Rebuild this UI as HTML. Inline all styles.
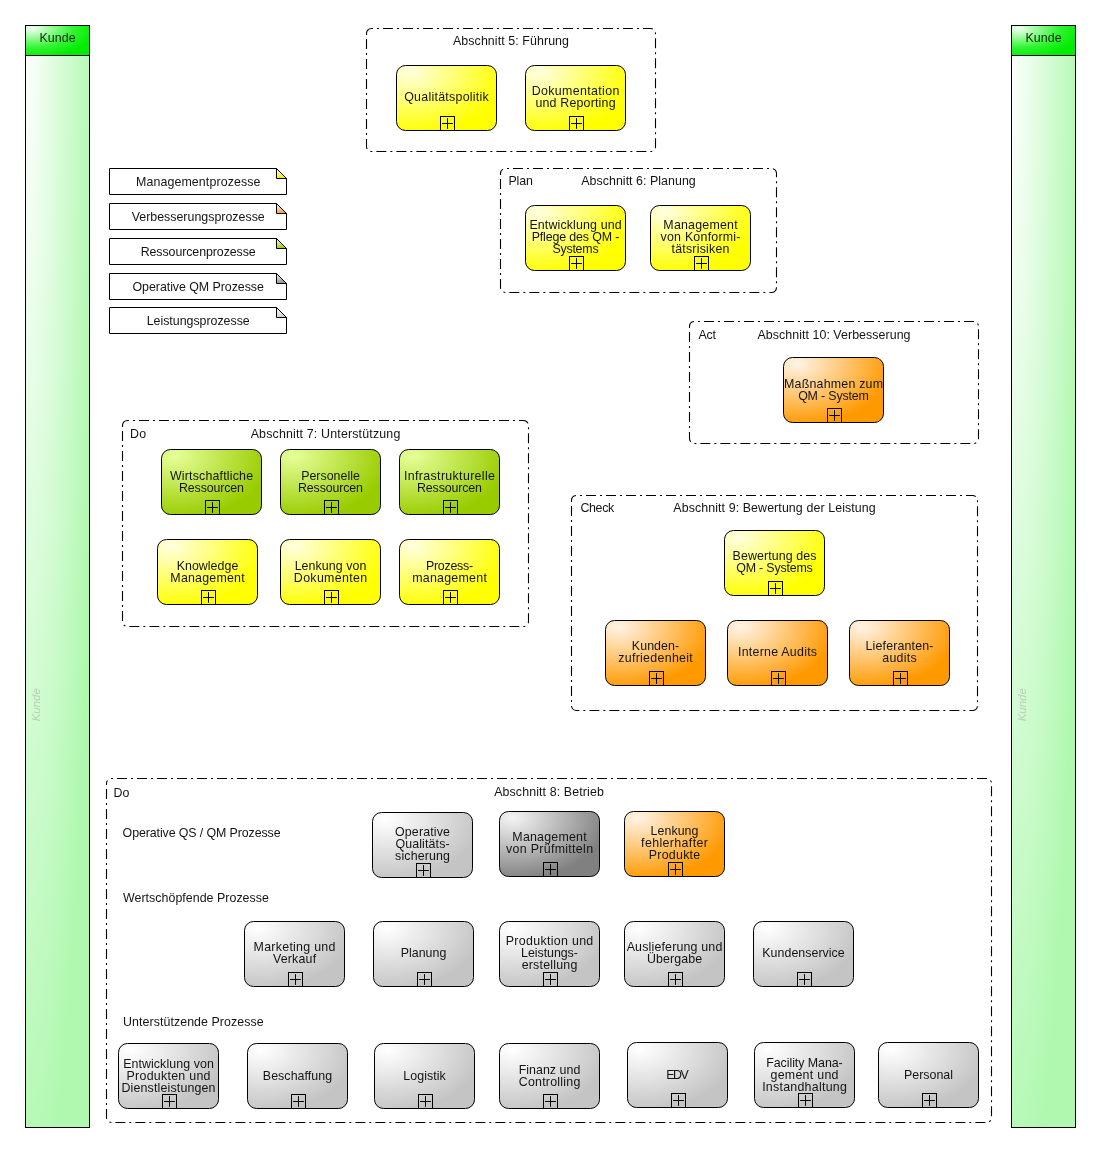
<!DOCTYPE html>
<html><head><meta charset="utf-8"><style>
html,body{margin:0;padding:0;background:#fff;}
svg{display:block;font-family:"Liberation Sans", sans-serif;will-change:transform;}
.t{font-size:12.4px;fill:#141414;stroke:#141414;stroke-width:0px;}
</style></head><body>
<svg width="1101" height="1152" viewBox="0 0 1101 1152">
<defs>
<radialGradient id="ty" cx="0.13" cy="0.1" r="0.95" fx="0.13" fy="0.1"><stop offset="0" stop-color="#ffffe0"/><stop offset="1" stop-color="#ffff00"/></radialGradient>
<radialGradient id="to" cx="0.13" cy="0.1" r="0.95" fx="0.13" fy="0.1"><stop offset="0" stop-color="#fff4e6"/><stop offset="1" stop-color="#ff9900"/></radialGradient>
<radialGradient id="tg" cx="0.13" cy="0.1" r="0.95" fx="0.13" fy="0.1"><stop offset="0" stop-color="#e6ff99"/><stop offset="1" stop-color="#99cc00"/></radialGradient>
<radialGradient id="tl" cx="0.13" cy="0.1" r="0.95" fx="0.13" fy="0.1"><stop offset="0" stop-color="#ffffff"/><stop offset="1" stop-color="#c4c4c4"/></radialGradient>
<radialGradient id="td" cx="0.13" cy="0.1" r="0.95" fx="0.13" fy="0.1"><stop offset="0" stop-color="#f4f4f4"/><stop offset="1" stop-color="#808080"/></radialGradient>
<linearGradient id="n0" x1="0" y1="0" x2="0.3" y2="1"><stop offset="0" stop-color="#ffffff"/><stop offset="1" stop-color="#f0f000"/></linearGradient>
<linearGradient id="n1" x1="0" y1="0" x2="0.3" y2="1"><stop offset="0" stop-color="#ffffff"/><stop offset="1" stop-color="#f0a040"/></linearGradient>
<linearGradient id="n2" x1="0" y1="0" x2="0.3" y2="1"><stop offset="0" stop-color="#ffffff"/><stop offset="1" stop-color="#99cc00"/></linearGradient>
<linearGradient id="n3" x1="0" y1="0" x2="0.3" y2="1"><stop offset="0" stop-color="#ffffff"/><stop offset="1" stop-color="#909090"/></linearGradient>
<linearGradient id="n4" x1="0" y1="0" x2="0.3" y2="1"><stop offset="0" stop-color="#ffffff"/><stop offset="1" stop-color="#d0d0d0"/></linearGradient>
<radialGradient id="lb" cx="0" cy="0" r="1.1" fx="0" fy="0"><stop offset="0" stop-color="#ffffff"/><stop offset="1" stop-color="#b0f8b0"/></radialGradient>
<radialGradient id="lh" cx="0.1" cy="0.1" r="1" fx="0.1" fy="0.1"><stop offset="0" stop-color="#f4fff4"/><stop offset="0.3" stop-color="#98fc98"/><stop offset="0.65" stop-color="#30f430"/><stop offset="1" stop-color="#00ec00"/></radialGradient>
</defs>
<rect x="25.5" y="25.5" width="64" height="1102" fill="url(#lb)" stroke="#000" stroke-width="1"/>
<rect x="25.5" y="25.5" width="64" height="30" fill="url(#lh)" stroke="#000" stroke-width="1"/>
<text x="57.5" y="41.8" text-anchor="middle" fill="#0c240c" font-size="12.4" textLength="36.2">Kunde</text>
<text x="39.8" y="704.7" transform="rotate(-90 39.8 704.7)" text-anchor="middle" fill="#b8d0b8" font-style="italic" font-size="11.5" textLength="33.2">Kunde</text>
<rect x="1011.5" y="25.5" width="64" height="1102" fill="url(#lb)" stroke="#000" stroke-width="1"/>
<rect x="1011.5" y="25.5" width="64" height="30" fill="url(#lh)" stroke="#000" stroke-width="1"/>
<text x="1043.5" y="41.8" text-anchor="middle" fill="#0c240c" font-size="12.4" textLength="36.2">Kunde</text>
<text x="1025.8" y="704.7" transform="rotate(-90 1025.8 704.7)" text-anchor="middle" fill="#b8d0b8" font-style="italic" font-size="11.5" textLength="33.2">Kunde</text>
<path d="M109.5,168.5 H276.5 L286.5,178.5 V194.5 H109.5 Z" fill="#fff" stroke="#000"/>
<path d="M276.5,168.5 V178.5 H286.5 Z" fill="url(#n0)" stroke="#000"/>
<text x="198.2" y="185.8" text-anchor="middle" class="t" textLength="124.5">Managementprozesse</text>
<path d="M109.5,203.5 H276.5 L286.5,213.5 V229.5 H109.5 Z" fill="#fff" stroke="#000"/>
<path d="M276.5,203.5 V213.5 H286.5 Z" fill="url(#n1)" stroke="#000"/>
<text x="198.2" y="220.8" text-anchor="middle" class="t" textLength="133.1">Verbesserungsprozesse</text>
<path d="M109.5,238.5 H276.5 L286.5,248.5 V264.5 H109.5 Z" fill="#fff" stroke="#000"/>
<path d="M276.5,238.5 V248.5 H286.5 Z" fill="url(#n2)" stroke="#000"/>
<text x="198.2" y="255.8" text-anchor="middle" class="t" textLength="115.1">Ressourcenprozesse</text>
<path d="M109.5,273.5 H276.5 L286.5,283.5 V299.5 H109.5 Z" fill="#fff" stroke="#000"/>
<path d="M276.5,273.5 V283.5 H286.5 Z" fill="url(#n3)" stroke="#000"/>
<text x="198.2" y="290.8" text-anchor="middle" class="t" textLength="131.4">Operative QM Prozesse</text>
<path d="M109.5,307.5 H276.5 L286.5,317.5 V333.5 H109.5 Z" fill="#fff" stroke="#000"/>
<path d="M276.5,307.5 V317.5 H286.5 Z" fill="url(#n4)" stroke="#000"/>
<text x="198.2" y="324.8" text-anchor="middle" class="t" textLength="103.1">Leistungsprozesse</text>
<path d="M366.5,33.5V146.5A5,5 0 0 0 371.5,151.5H650.5A5,5 0 0 0 655.5,146.5V33.5A5,5 0 0 0 650.5,28.5H371.5A5,5 0 0 0 366.5,33.5Z" fill="none" stroke="#000" stroke-width="1.1" stroke-dasharray="2 4 10 4" stroke-dashoffset="0.5"/>
<text x="511.0" y="45.0" text-anchor="middle" class="t" textLength="116.0">Abschnitt 5: Führung</text>
<path d="M500.5,173.5V287.5A5,5 0 0 0 505.5,292.5H771.5A5,5 0 0 0 776.5,287.5V173.5A5,5 0 0 0 771.5,168.5H505.5A5,5 0 0 0 500.5,173.5Z" fill="none" stroke="#000" stroke-width="1.1" stroke-dasharray="2 4 10 4" stroke-dashoffset="0.5"/>
<text x="508.5" y="185.0" class="t" textLength="24.3">Plan</text>
<text x="638.5" y="185.0" text-anchor="middle" class="t" textLength="114.5">Abschnitt 6: Planung</text>
<path d="M689.5,326.5V438.5A5,5 0 0 0 694.5,443.5H973.5A5,5 0 0 0 978.5,438.5V326.5A5,5 0 0 0 973.5,321.5H694.5A5,5 0 0 0 689.5,326.5Z" fill="none" stroke="#000" stroke-width="1.1" stroke-dasharray="2 4 10 4" stroke-dashoffset="0.5"/>
<text x="698.5" y="339.0" class="t" textLength="17.5">Act</text>
<text x="834.0" y="339.0" text-anchor="middle" class="t" textLength="153.0">Abschnitt 10: Verbesserung</text>
<path d="M122.5,425.5V621.5A5,5 0 0 0 127.5,626.5H523.5A5,5 0 0 0 528.5,621.5V425.5A5,5 0 0 0 523.5,420.5H127.5A5,5 0 0 0 122.5,425.5Z" fill="none" stroke="#000" stroke-width="1.1" stroke-dasharray="2 4 10 4" stroke-dashoffset="0.5"/>
<text x="130.1" y="438.0" class="t" textLength="16.0">Do</text>
<text x="325.5" y="438.0" text-anchor="middle" class="t" textLength="149.6">Abschnitt 7: Unterstützung</text>
<path d="M571.5,500.5V705.5A5,5 0 0 0 576.5,710.5H972.5A5,5 0 0 0 977.5,705.5V500.5A5,5 0 0 0 972.5,495.5H576.5A5,5 0 0 0 571.5,500.5Z" fill="none" stroke="#000" stroke-width="1.1" stroke-dasharray="2 4 10 4" stroke-dashoffset="0.5"/>
<text x="580.5" y="512.0" class="t" textLength="33.7">Check</text>
<text x="774.5" y="512.0" text-anchor="middle" class="t" textLength="202.4">Abschnitt 9: Bewertung der Leistung</text>
<path d="M106.5,783.5V1117.5A5,5 0 0 0 111.5,1122.5H986.5A5,5 0 0 0 991.5,1117.5V783.5A5,5 0 0 0 986.5,778.5H111.5A5,5 0 0 0 106.5,783.5Z" fill="none" stroke="#000" stroke-width="1.1" stroke-dasharray="2 4 10 4" stroke-dashoffset="0.5"/>
<text x="113.5" y="797.0" class="t" textLength="16.0">Do</text>
<text x="549.0" y="796.0" text-anchor="middle" class="t" textLength="109.7">Abschnitt 8: Betrieb</text>
<text x="122.6" y="836.8" class="t" textLength="158.0">Operative QS / QM Prozesse</text>
<text x="123" y="901.8" class="t" textLength="145.9">Wertschöpfende Prozesse</text>
<text x="123" y="1026" class="t" textLength="140.7">Unterstützende Prozesse</text>
<rect x="396.5" y="65.5" width="100" height="65" rx="9" fill="url(#ty)" stroke="#000" stroke-width="1"/>
<text x="446.5" y="100.5" text-anchor="middle" class="t" textLength="84.6">Qualitätspolitik</text>
<rect x="440.5" y="116.5" width="14" height="14" fill="none" stroke="#000"/>
<path d="M442.5,123.5 H452.5 M447.5,118.5 V128.5" stroke="#000" fill="none" stroke-linecap="round"/>
<rect x="525.5" y="65.5" width="100" height="65" rx="9" fill="url(#ty)" stroke="#000" stroke-width="1"/>
<text x="575.5" y="94.5" text-anchor="middle" class="t" textLength="87.7">Dokumentation</text>
<text x="575.5" y="106.5" text-anchor="middle" class="t" textLength="80.1">und Reporting</text>
<rect x="569.5" y="116.5" width="14" height="14" fill="none" stroke="#000"/>
<path d="M571.5,123.5 H581.5 M576.5,118.5 V128.5" stroke="#000" fill="none" stroke-linecap="round"/>
<rect x="525.5" y="205.5" width="100" height="65" rx="9" fill="url(#ty)" stroke="#000" stroke-width="1"/>
<text x="575.5" y="228.5" text-anchor="middle" class="t" textLength="92.2">Entwicklung und</text>
<text x="575.5" y="240.5" text-anchor="middle" class="t" textLength="87.6">Pflege des QM -</text>
<text x="575.5" y="252.5" text-anchor="middle" class="t" textLength="46.2">Systems</text>
<rect x="569.5" y="256.5" width="14" height="14" fill="none" stroke="#000"/>
<path d="M571.5,263.5 H581.5 M576.5,258.5 V268.5" stroke="#000" fill="none" stroke-linecap="round"/>
<rect x="650.5" y="205.5" width="100" height="65" rx="9" fill="url(#ty)" stroke="#000" stroke-width="1"/>
<text x="700.5" y="228.5" text-anchor="middle" class="t" textLength="74.3">Management</text>
<text x="700.5" y="240.5" text-anchor="middle" class="t" textLength="80.0">von Konformi-</text>
<text x="700.5" y="252.5" text-anchor="middle" class="t" textLength="58.0">tätsrisiken</text>
<rect x="694.5" y="256.5" width="14" height="14" fill="none" stroke="#000"/>
<path d="M696.5,263.5 H706.5 M701.5,258.5 V268.5" stroke="#000" fill="none" stroke-linecap="round"/>
<rect x="783.5" y="357.5" width="100" height="65" rx="9" fill="url(#to)" stroke="#000" stroke-width="1"/>
<text x="833.5" y="387.5" text-anchor="middle" class="t" textLength="99.0">Maßnahmen zum</text>
<text x="833.5" y="399.5" text-anchor="middle" class="t" textLength="70.7">QM - System</text>
<rect x="827.5" y="408.5" width="14" height="14" fill="none" stroke="#000"/>
<path d="M829.5,415.5 H839.5 M834.5,410.5 V420.5" stroke="#000" fill="none" stroke-linecap="round"/>
<rect x="161.5" y="449.5" width="100" height="65" rx="9" fill="url(#tg)" stroke="#000" stroke-width="1"/>
<text x="211.5" y="479.5" text-anchor="middle" class="t" textLength="83.1">Wirtschaftliche</text>
<text x="211.5" y="491.5" text-anchor="middle" class="t" textLength="64.9">Ressourcen</text>
<rect x="205.5" y="500.5" width="14" height="14" fill="none" stroke="#000"/>
<path d="M207.5,507.5 H217.5 M212.5,502.5 V512.5" stroke="#000" fill="none" stroke-linecap="round"/>
<rect x="280.5" y="449.5" width="100" height="65" rx="9" fill="url(#tg)" stroke="#000" stroke-width="1"/>
<text x="330.5" y="479.5" text-anchor="middle" class="t" textLength="58.7">Personelle</text>
<text x="330.5" y="491.5" text-anchor="middle" class="t" textLength="64.9">Ressourcen</text>
<rect x="324.5" y="500.5" width="14" height="14" fill="none" stroke="#000"/>
<path d="M326.5,507.5 H336.5 M331.5,502.5 V512.5" stroke="#000" fill="none" stroke-linecap="round"/>
<rect x="399.5" y="449.5" width="100" height="65" rx="9" fill="url(#tg)" stroke="#000" stroke-width="1"/>
<text x="449.5" y="479.5" text-anchor="middle" class="t" textLength="90.9">Infrastrukturelle</text>
<text x="449.5" y="491.5" text-anchor="middle" class="t" textLength="64.9">Ressourcen</text>
<rect x="443.5" y="500.5" width="14" height="14" fill="none" stroke="#000"/>
<path d="M445.5,507.5 H455.5 M450.5,502.5 V512.5" stroke="#000" fill="none" stroke-linecap="round"/>
<rect x="157.5" y="539.5" width="100" height="65" rx="9" fill="url(#ty)" stroke="#000" stroke-width="1"/>
<text x="207.5" y="569.5" text-anchor="middle" class="t" textLength="61.7">Knowledge</text>
<text x="207.5" y="581.5" text-anchor="middle" class="t" textLength="74.3">Management</text>
<rect x="201.5" y="590.5" width="14" height="14" fill="none" stroke="#000"/>
<path d="M203.5,597.5 H213.5 M208.5,592.5 V602.5" stroke="#000" fill="none" stroke-linecap="round"/>
<rect x="280.5" y="539.5" width="100" height="65" rx="9" fill="url(#ty)" stroke="#000" stroke-width="1"/>
<text x="330.5" y="569.5" text-anchor="middle" class="t" textLength="71.7">Lenkung von</text>
<text x="330.5" y="581.5" text-anchor="middle" class="t" textLength="73.3">Dokumenten</text>
<rect x="324.5" y="590.5" width="14" height="14" fill="none" stroke="#000"/>
<path d="M326.5,597.5 H336.5 M331.5,592.5 V602.5" stroke="#000" fill="none" stroke-linecap="round"/>
<rect x="399.5" y="539.5" width="100" height="65" rx="9" fill="url(#ty)" stroke="#000" stroke-width="1"/>
<text x="449.5" y="569.5" text-anchor="middle" class="t" textLength="47.1">Prozess-</text>
<text x="449.5" y="581.5" text-anchor="middle" class="t" textLength="74.7">management</text>
<rect x="443.5" y="590.5" width="14" height="14" fill="none" stroke="#000"/>
<path d="M445.5,597.5 H455.5 M450.5,592.5 V602.5" stroke="#000" fill="none" stroke-linecap="round"/>
<rect x="724.5" y="530.5" width="100" height="65" rx="9" fill="url(#ty)" stroke="#000" stroke-width="1"/>
<text x="774.5" y="559.5" text-anchor="middle" class="t" textLength="83.9">Bewertung des</text>
<text x="774.5" y="571.5" text-anchor="middle" class="t" textLength="76.5">QM - Systems</text>
<rect x="768.5" y="581.5" width="14" height="14" fill="none" stroke="#000"/>
<path d="M770.5,588.5 H780.5 M775.5,583.5 V593.5" stroke="#000" fill="none" stroke-linecap="round"/>
<rect x="605.5" y="620.5" width="100" height="65" rx="9" fill="url(#to)" stroke="#000" stroke-width="1"/>
<text x="655.5" y="649.5" text-anchor="middle" class="t" textLength="47.4">Kunden-</text>
<text x="655.5" y="661.5" text-anchor="middle" class="t" textLength="74.6">zufriedenheit</text>
<rect x="649.5" y="671.5" width="14" height="14" fill="none" stroke="#000"/>
<path d="M651.5,678.5 H661.5 M656.5,673.5 V683.5" stroke="#000" fill="none" stroke-linecap="round"/>
<rect x="727.5" y="620.5" width="100" height="65" rx="9" fill="url(#to)" stroke="#000" stroke-width="1"/>
<text x="777.5" y="655.5" text-anchor="middle" class="t" textLength="79.1">Interne Audits</text>
<rect x="771.5" y="671.5" width="14" height="14" fill="none" stroke="#000"/>
<path d="M773.5,678.5 H783.5 M778.5,673.5 V683.5" stroke="#000" fill="none" stroke-linecap="round"/>
<rect x="849.5" y="620.5" width="100" height="65" rx="9" fill="url(#to)" stroke="#000" stroke-width="1"/>
<text x="899.5" y="649.5" text-anchor="middle" class="t" textLength="67.9">Lieferanten-</text>
<text x="899.5" y="661.5" text-anchor="middle" class="t" textLength="34.4">audits</text>
<rect x="893.5" y="671.5" width="14" height="14" fill="none" stroke="#000"/>
<path d="M895.5,678.5 H905.5 M900.5,673.5 V683.5" stroke="#000" fill="none" stroke-linecap="round"/>
<rect x="372.5" y="812.5" width="100" height="65" rx="9" fill="url(#tl)" stroke="#000" stroke-width="1"/>
<text x="422.5" y="835.5" text-anchor="middle" class="t" textLength="55.0">Operative</text>
<text x="422.5" y="847.5" text-anchor="middle" class="t" textLength="54.2">Qualitäts-</text>
<text x="422.5" y="859.5" text-anchor="middle" class="t" textLength="54.8">sicherung</text>
<rect x="416.5" y="863.5" width="14" height="14" fill="none" stroke="#000"/>
<path d="M418.5,870.5 H428.5 M423.5,865.5 V875.5" stroke="#000" fill="none" stroke-linecap="round"/>
<rect x="499.5" y="811.5" width="100" height="65" rx="9" fill="url(#td)" stroke="#000" stroke-width="1"/>
<text x="549.5" y="840.5" text-anchor="middle" class="t" textLength="74.3">Management</text>
<text x="549.5" y="852.5" text-anchor="middle" class="t" textLength="87.1">von Prüfmitteln</text>
<rect x="543.5" y="862.5" width="14" height="14" fill="none" stroke="#000"/>
<path d="M545.5,869.5 H555.5 M550.5,864.5 V874.5" stroke="#000" fill="none" stroke-linecap="round"/>
<rect x="624.5" y="811.5" width="100" height="65" rx="9" fill="url(#to)" stroke="#000" stroke-width="1"/>
<text x="674.5" y="834.5" text-anchor="middle" class="t" textLength="47.9">Lenkung</text>
<text x="674.5" y="846.5" text-anchor="middle" class="t" textLength="66.8">fehlerhafter</text>
<text x="674.5" y="858.5" text-anchor="middle" class="t" textLength="51.4">Produkte</text>
<rect x="668.5" y="862.5" width="14" height="14" fill="none" stroke="#000"/>
<path d="M670.5,869.5 H680.5 M675.5,864.5 V874.5" stroke="#000" fill="none" stroke-linecap="round"/>
<rect x="244.5" y="921.5" width="100" height="65" rx="9" fill="url(#tl)" stroke="#000" stroke-width="1"/>
<text x="294.5" y="950.5" text-anchor="middle" class="t" textLength="81.8">Marketing und</text>
<text x="294.5" y="962.5" text-anchor="middle" class="t" textLength="43.2">Verkauf</text>
<rect x="288.5" y="972.5" width="14" height="14" fill="none" stroke="#000"/>
<path d="M290.5,979.5 H300.5 M295.5,974.5 V984.5" stroke="#000" fill="none" stroke-linecap="round"/>
<rect x="373.5" y="921.5" width="100" height="65" rx="9" fill="url(#tl)" stroke="#000" stroke-width="1"/>
<text x="423.5" y="956.5" text-anchor="middle" class="t" textLength="45.6">Planung</text>
<rect x="417.5" y="972.5" width="14" height="14" fill="none" stroke="#000"/>
<path d="M419.5,979.5 H429.5 M424.5,974.5 V984.5" stroke="#000" fill="none" stroke-linecap="round"/>
<rect x="499.5" y="921.5" width="100" height="65" rx="9" fill="url(#tl)" stroke="#000" stroke-width="1"/>
<text x="549.5" y="944.5" text-anchor="middle" class="t" textLength="87.5">Produktion und</text>
<text x="549.5" y="956.5" text-anchor="middle" class="t" textLength="56.8">Leistungs-</text>
<text x="549.5" y="968.5" text-anchor="middle" class="t" textLength="55.7">erstellung</text>
<rect x="543.5" y="972.5" width="14" height="14" fill="none" stroke="#000"/>
<path d="M545.5,979.5 H555.5 M550.5,974.5 V984.5" stroke="#000" fill="none" stroke-linecap="round"/>
<rect x="624.5" y="921.5" width="100" height="65" rx="9" fill="url(#tl)" stroke="#000" stroke-width="1"/>
<text x="674.5" y="950.5" text-anchor="middle" class="t" textLength="95.7">Auslieferung und</text>
<text x="674.5" y="962.5" text-anchor="middle" class="t" textLength="55.2">Übergabe</text>
<rect x="668.5" y="972.5" width="14" height="14" fill="none" stroke="#000"/>
<path d="M670.5,979.5 H680.5 M675.5,974.5 V984.5" stroke="#000" fill="none" stroke-linecap="round"/>
<rect x="753.5" y="921.5" width="100" height="65" rx="9" fill="url(#tl)" stroke="#000" stroke-width="1"/>
<text x="803.5" y="956.5" text-anchor="middle" class="t" textLength="82.4">Kundenservice</text>
<rect x="797.5" y="972.5" width="14" height="14" fill="none" stroke="#000"/>
<path d="M799.5,979.5 H809.5 M804.5,974.5 V984.5" stroke="#000" fill="none" stroke-linecap="round"/>
<rect x="118.5" y="1043.5" width="100" height="65" rx="9" fill="url(#tl)" stroke="#000" stroke-width="1"/>
<text x="168.5" y="1067.5" text-anchor="middle" class="t" textLength="90.7">Entwicklung von</text>
<text x="168.5" y="1079.5" text-anchor="middle" class="t" textLength="83.9">Produkten und</text>
<text x="168.5" y="1091.5" text-anchor="middle" class="t" textLength="94.0">Dienstleistungen</text>
<rect x="162.5" y="1094.5" width="14" height="14" fill="none" stroke="#000"/>
<path d="M164.5,1101.5 H174.5 M169.5,1096.5 V1106.5" stroke="#000" fill="none" stroke-linecap="round"/>
<rect x="247.5" y="1043.5" width="100" height="65" rx="9" fill="url(#tl)" stroke="#000" stroke-width="1"/>
<text x="297.5" y="1079.5" text-anchor="middle" class="t" textLength="69.4">Beschaffung</text>
<rect x="291.5" y="1094.5" width="14" height="14" fill="none" stroke="#000"/>
<path d="M293.5,1101.5 H303.5 M298.5,1096.5 V1106.5" stroke="#000" fill="none" stroke-linecap="round"/>
<rect x="374.5" y="1043.5" width="100" height="65" rx="9" fill="url(#tl)" stroke="#000" stroke-width="1"/>
<text x="424.5" y="1079.5" text-anchor="middle" class="t" textLength="42.4">Logistik</text>
<rect x="418.5" y="1094.5" width="14" height="14" fill="none" stroke="#000"/>
<path d="M420.5,1101.5 H430.5 M425.5,1096.5 V1106.5" stroke="#000" fill="none" stroke-linecap="round"/>
<rect x="499.5" y="1043.5" width="100" height="65" rx="9" fill="url(#tl)" stroke="#000" stroke-width="1"/>
<text x="549.5" y="1073.5" text-anchor="middle" class="t" textLength="61.6">Finanz und</text>
<text x="549.5" y="1085.5" text-anchor="middle" class="t" textLength="61.6">Controlling</text>
<rect x="543.5" y="1094.5" width="14" height="14" fill="none" stroke="#000"/>
<path d="M545.5,1101.5 H555.5 M550.5,1096.5 V1106.5" stroke="#000" fill="none" stroke-linecap="round"/>
<rect x="627.5" y="1042.5" width="100" height="65" rx="9" fill="url(#tl)" stroke="#000" stroke-width="1"/>
<text x="677.5" y="1078.5" text-anchor="middle" class="t" textLength="22.6">EDV</text>
<rect x="671.5" y="1093.5" width="14" height="14" fill="none" stroke="#000"/>
<path d="M673.5,1100.5 H683.5 M678.5,1095.5 V1105.5" stroke="#000" fill="none" stroke-linecap="round"/>
<rect x="754.5" y="1042.5" width="100" height="65" rx="9" fill="url(#tl)" stroke="#000" stroke-width="1"/>
<text x="804.5" y="1066.5" text-anchor="middle" class="t" textLength="76.5">Facility Mana-</text>
<text x="804.5" y="1078.5" text-anchor="middle" class="t" textLength="68.0">gement und</text>
<text x="804.5" y="1090.5" text-anchor="middle" class="t" textLength="84.7">Instandhaltung</text>
<rect x="798.5" y="1093.5" width="14" height="14" fill="none" stroke="#000"/>
<path d="M800.5,1100.5 H810.5 M805.5,1095.5 V1105.5" stroke="#000" fill="none" stroke-linecap="round"/>
<rect x="878.5" y="1042.5" width="100" height="65" rx="9" fill="url(#tl)" stroke="#000" stroke-width="1"/>
<text x="928.5" y="1078.5" text-anchor="middle" class="t" textLength="48.9">Personal</text>
<rect x="922.5" y="1093.5" width="14" height="14" fill="none" stroke="#000"/>
<path d="M924.5,1100.5 H934.5 M929.5,1095.5 V1105.5" stroke="#000" fill="none" stroke-linecap="round"/>
</svg>
</body></html>
